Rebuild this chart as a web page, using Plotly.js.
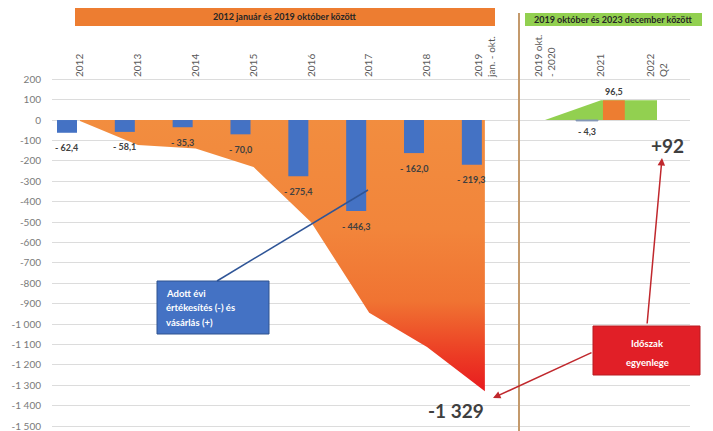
<!DOCTYPE html>
<html><head><meta charset="utf-8">
<script src="https://cdn.plot.ly/plotly-3.0.1.min.js"></script>
<style>html,body{margin:0;padding:0;background:#fff}#c{width:713px;height:431px}</style>
</head><body><div id="c"></div>
<script>
// ---- data ----
const years = ['2012','2013','2014','2015','2016','2017','2018','2019<br>jan. - okt.'];
const sales1 = [-62.4, -58.1, -35.3, -70.0, -275.4, -446.3, -162.0, -219.3];
const balance1 = [-5, -122, -140, -230, -502, -945, -1112, -1329];
const periods2 = ['2019 okt.<br>- 2020', '2021', '2022<br>Q2'];
const sales2 = [null, -4.3, null];
const buys2 = [null, 96.5, null];
const balance2 = [0, 96.5, 96.5];
const yTicks = [200,100,0,-100,-200,-300,-400,-500,-600,-700,-800,-900,-1000,-1100,-1200,-1300,-1400,-1500];
const banner1 = '2012 január és 2019 október között';
const banner2 = '2019 október és 2023 december között';
const boxLines1 = ['Adott évi', 'értékesítés (-) és', 'vásárlás (+)'];
const boxLines2 = ['Időszak', 'egyenlege'];

// ---- helpers ----
const FONT = 'Lato, "Open Sans", sans-serif';
function thou(n){ const a=Math.abs(n); const s = a>=1000 ? Math.floor(a/1000)+' '+String(a%1000).padStart(3,'0') : String(a); return (n<0?'-':'')+s; }
function dec(v){ return (v<0?'- ':'') + Math.abs(v).toFixed(1).replace('.',','); }
const idx1 = years.map((_,i)=>i);
const idx2 = periods2.map((_,i)=>i);

const BW1 = 0.346, BOFF1 = -0.225;
const BW2 = 0.39;

// plot area: top 78px, height 353px -> paper conversion helpers
const PT = 78, PH = 353, PL = 52, PW = 638;
const px = X => (X-PL)/PW;
const py = Y => (PT+PH-Y)/PH;

const traces = [
  { type:'scatter', x:idx1, y:balance1, xaxis:'x', yaxis:'y', mode:'lines', line:{width:0},
    fill:'tozeroy',
    fillgradient:{type:'vertical', colorscale:[[0,'#e81b1f'],[0.13,'#ec3b24'],[0.33,'#f07332'],[0.6,'#f2853b'],[1,'#f28d3f']]},
    hoverinfo:'skip', showlegend:false },
  { type:'scatter', x:idx2, y:balance2, xaxis:'x2', yaxis:'y', mode:'lines', line:{width:0},
    fill:'tozeroy', fillcolor:'#92d050', hoverinfo:'skip', showlegend:false },
  { type:'bar', x:idx1, y:sales1, xaxis:'x3', yaxis:'y', width:BW1, offset:BOFF1-BW1/2,
    marker:{color:'#4472c4'}, showlegend:false, hoverinfo:'skip' },
  { type:'bar', x:idx2, y:sales2, xaxis:'x4', yaxis:'y', width:BW2, offset:-0.25-BW2/2,
    marker:{color:'#8396b6', line:{color:'#8396b6', width:1}}, showlegend:false, hoverinfo:'skip' },
  { type:'bar', x:idx2, y:buys2, xaxis:'x4', yaxis:'y', width:BW2, offset:0.23-BW2/2,
    marker:{color:'#ed7d31'}, showlegend:false, hoverinfo:'skip' }
];

const annotations = [];
const A = o => annotations.push(Object.assign({showarrow:false, xanchor:'center', yanchor:'middle'}, o));
sales1.forEach((v,i)=>A({xref:'x', yref:'y', x:i+BOFF1, y:v, yshift:-15,
  text:'<b>'+dec(v)+'</b>', font:{family:FONT, size:9, color:'#404040'}}));
sales2.forEach((v,i)=>{ if(v!==null) A({xref:'x2', yref:'y', x:i-0.25, y:v, yshift:-11,
  text:'<b>'+dec(v)+'</b>', font:{family:FONT, size:9, color:'#404040'}}); });
buys2.forEach((v,i)=>{ if(v!==null) A({xref:'x2', yref:'y', x:i+0.23, y:v, yshift:9,
  text:'<b>'+dec(v)+'</b>', font:{family:FONT, size:9, color:'#404040'}}); });

const total1 = Math.round(sales1.reduce((a,b)=>a+b,0));
const total2 = Math.round([...sales2,...buys2].reduce((a,b)=>a+(b||0),0));
A({xref:'paper', yref:'paper', x:px(456), y:py(410),
  text:'<b>'+thou(total1)+'</b>', font:{family:FONT, size:19, color:'#3f3f3f'}});
A({xref:'paper', yref:'paper', x:px(667), y:py(145),
  text:'<b>'+(total2>0?'+':'')+thou(total2)+'</b>', font:{family:FONT, size:19, color:'#3f3f3f'}});
// banners text
A({xref:'paper', yref:'paper', x:px(285), y:py(17),
  text:'<b>'+banner1+'</b>', font:{family:FONT, size:9, color:'#262626'}});
A({xref:'paper', yref:'paper', x:px(613), y:py(19.5),
  text:'<b>'+banner2+'</b>', font:{family:FONT, size:9, color:'#262626'}});
// boxes text
boxLines1.forEach((t,i)=>A({xref:'paper', yref:'paper', x:px(164), y:py(293+14.5*i), xanchor:'left',
  text:'<b>'+t+'</b>', font:{family:FONT, size:9.5, color:'#ffffff'}}));
boxLines2.forEach((t,i)=>A({xref:'paper', yref:'paper', x:px(647), y:py(343+19*i),
  text:'<b>'+t+'</b>', font:{family:FONT, size:9.5, color:'#ffffff'}}));
// red arrows
annotations.push({xref:'paper', yref:'paper', x:px(493), y:py(398), ax:100, ay:-46, text:'', showarrow:true,
  arrowhead:2, arrowsize:1, arrowwidth:1.5, arrowcolor:'#c0282d'});
annotations.push({xref:'paper', yref:'paper', x:px(662), y:py(158), ax:-15, ay:167, text:'', showarrow:true,
  arrowhead:2, arrowsize:1, arrowwidth:1.5, arrowcolor:'#c0282d'});

const shapes = [
  {type:'rect', xref:'paper', yref:'paper', x0:px(75), x1:px(495), y0:py(26), y1:py(8), fillcolor:'#ed7d31', line:{width:0}},
  {type:'rect', xref:'paper', yref:'paper', x0:px(525), x1:px(702), y0:py(26), y1:py(13), fillcolor:'#92d050', line:{width:0}},
  {type:'line', xref:'paper', yref:'paper', x0:px(519), x1:px(519), y0:py(431), y1:py(13), line:{color:'#c49a6c', width:2}},
  {type:'rect', xref:'paper', yref:'paper', x0:px(157), x1:px(269), y0:py(334), y1:py(281), fillcolor:'#4472c4', line:{color:'#2f528f', width:1}},
  {type:'line', xref:'paper', yref:'paper', x0:px(217), y0:py(281), x1:px(368), y1:py(190), line:{color:'#2f5597', width:1.5}},
  {type:'rect', xref:'paper', yref:'paper', x0:px(593), x1:px(700), y0:py(375), y1:py(326), fillcolor:'#e11f27', line:{color:'#b81c22', width:1}}
];

const xcommon = {side:'top', tickangle:-90, showgrid:false, zeroline:false, showline:false, ticks:'',
  tickfont:{family:FONT, size:10, color:'#595959'}, anchor:'y', fixedrange:true};

const layout = {
  width:713, height:431,
  margin:{l:PL, r:713-PL-PW, t:PT, b:431-PT-PH, pad:0},
  paper_bgcolor:'#ffffff', plot_bgcolor:'#ffffff',
  font:{family:FONT},
  showlegend:false,
  barmode:'overlay',
  xaxis: Object.assign({}, xcommon, {domain:[0,px(519)], range:[-0.484,7.59], tickvals:idx1, ticktext:years}),
  xaxis2: Object.assign({}, xcommon, {domain:[px(519),1], range:[-0.464,2.589], tickvals:idx2, ticktext:periods2}),
  xaxis3: {overlaying:'x', domain:[0,px(519)], range:[-0.484,7.59], visible:false, anchor:'y'},
  xaxis4: {overlaying:'x2', domain:[px(519),1], range:[-0.464,2.589], visible:false, anchor:'y'},
  yaxis: {range:[-1524,206], tickvals:yTicks, ticktext:yTicks.map(thou), gridcolor:'#dcdcdc', gridwidth:1,
    zeroline:false, showline:false, ticks:'outside', ticklen:8, tickcolor:'rgba(0,0,0,0)', ticklabeloverflow:'allow',
    tickfont:{family:FONT, size:10, color:'#7a7a7a'}, fixedrange:true},
  shapes: shapes,
  annotations: annotations
};

Plotly.newPlot('c', traces, layout, {displayModeBar:false, staticPlot:true});
</script></body></html>
